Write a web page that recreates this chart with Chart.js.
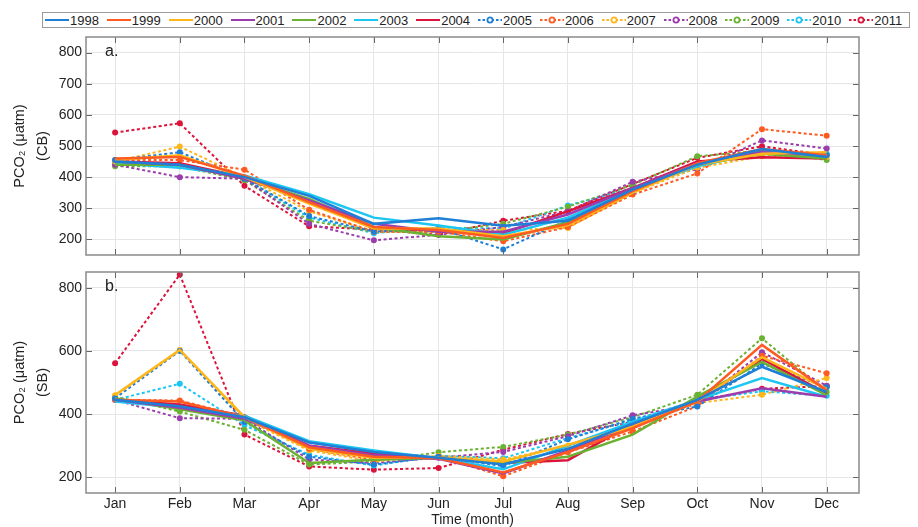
<!DOCTYPE html>
<html><head><meta charset="utf-8">
<script src="https://cdn.jsdelivr.net/npm/chart.js@4.4.1/dist/chart.umd.min.js"></script>
<style>
html,body{margin:0;padding:0;background:#fff;}
#wrap{position:relative;width:918px;height:527px;font-family:"Liberation Sans",Arial,sans-serif;overflow:hidden;}
canvas{position:absolute;left:0;top:0;}
#legend{position:absolute;left:42px;top:12px;width:866px;height:14px;border:1px solid #9a9a9a;display:flex;align-items:center;background:#fff;z-index:5;}
.item{display:flex;align-items:center;width:62px;font-size:13px;color:#222;white-space:nowrap;}
.item svg{margin-left:2px;margin-right:1px;}
</style></head>
<body>
<div id="wrap">
  <canvas id="cA" width="918" height="527"></canvas>
  <canvas id="cB" width="918" height="527"></canvas>
  <div id="legend"></div>
</div>
<script>
// ---------- data ----------
const months = ['Jan','Feb','Mar','Apr','May','Jun','Jul','Aug','Sep','Oct','Nov','Dec'];
const years = [1998,1999,2000,2001,2002,2003,2004,2005,2006,2007,2008,2009,2010,2011];
const colors = ['#1F7FD6','#FF5A22','#FFB61A','#9C3DAE','#6BB233','#1CC6F2','#DC143C'];
const ticksCB = [200,300,400,500,600,700,800];
const ticksSB = [200,400,600,800];

// panel a. PCO2 (CB), one row per year 1998..2011
const cbValues = [
  [450,440,400,340,250,268,244,260,360,440,490,465], // 1998
  [460,465,405,320,240,230,205,250,355,445,490,470], // 1999
  [455,470,400,315,235,235,210,245,350,440,475,480], // 2000
  [450,440,395,325,250,225,225,280,365,445,480,470], // 2001
  [440,440,395,330,240,210,200,255,355,440,475,460], // 2002
  [445,430,405,345,270,245,215,270,360,435,480,470], // 2003
  [450,445,400,325,235,230,220,290,365,450,464,460], // 2004
  [455,480,395,275,225,235,168,263,355,440,485,470], // 2005
  [455,455,424,295,225,225,194,240,344,412,554,533], // 2006
  [450,498,400,290,225,230,230,237,350,430,467,465], // 2007
  [440,400,395,250,197,215,240,290,385,425,518,492], // 2008
  [435,435,390,260,225,225,250,305,375,467,485,455], // 2009
  [445,435,395,270,220,238,235,309,365,443,480,475], // 2010
  [543,573,372,242,232,215,260,292,378,462,499,471]  // 2011
];
// panel b. PCO2 (SB)
const sbValues = [
  [445,425,390,310,280,262,240,290,370,445,550,470], // 1998
  [445,440,390,295,265,260,215,280,355,440,619,475], // 1999
  [460,603,390,290,262,262,250,303,360,440,580,480], // 2000
  [445,420,385,300,270,258,212,285,365,440,482,455], // 2001
  [450,415,380,245,255,262,245,265,335,455,565,460], // 2002
  [440,420,395,314,285,260,225,300,375,445,514,455], // 2003
  [445,430,395,300,275,262,245,254,370,445,575,465], // 2004
  [450,600,375,265,240,265,235,320,385,424,560,485], // 2005
  [445,443,390,290,255,265,203,279,345,425,585,529], // 2006
  [460,603,385,285,250,268,256,300,360,435,461,514], // 2007
  [445,387,385,256,245,262,280,330,396,430,596,490], // 2008
  [455,408,350,240,250,279,296,335,390,461,640,470], // 2009
  [445,496,365,271,237,268,260,324,380,445,472,458], // 2010
  [561,842,335,234,224,229,287,337,375,443,480,489]  // 2011
];

// ---------- legend ----------
const leg = document.getElementById('legend');
years.forEach((yr,i)=>{
  const c = colors[i%7];
  const dashed = i>=7;
  const svg = dashed
    ? `<svg width="24" height="10"><line x1="0" y1="5" x2="24" y2="5" stroke="${c}" stroke-width="2" stroke-dasharray="2.5,2"/><circle cx="12" cy="5" r="2.6" fill="#fff" stroke="${c}" stroke-width="1.8"/></svg>`
    : `<svg width="24" height="10"><line x1="0" y1="5" x2="24" y2="5" stroke="${c}" stroke-width="2"/></svg>`;
  const d = document.createElement('div');
  d.className='item';
  d.innerHTML = svg + '<span>'+yr+'</span>';
  leg.appendChild(d);
});

// ---------- charts ----------
const FONT = '"Liberation Sans", Arial, sans-serif';
const framePlugin = {
  id:'frame',
  afterDraw(chart, args, opts){
    const {ctx, chartArea:a, scales:{x,y}} = chart;
    ctx.save();
    ctx.strokeStyle='#666'; ctx.lineWidth=1;
    const L=6;
    ctx.beginPath();
    x.ticks.forEach(t=>{const p=Math.round(x.getPixelForValue(t.value))+0.5;
      ctx.moveTo(p,a.bottom); ctx.lineTo(p,a.bottom-L); ctx.moveTo(p,a.top); ctx.lineTo(p,a.top+L);});
    y.ticks.forEach(t=>{const p=Math.round(y.getPixelForValue(t.value))+0.5;
      ctx.moveTo(a.left,p); ctx.lineTo(a.left+L,p); ctx.moveTo(a.right,p); ctx.lineTo(a.right-L,p);});
    ctx.stroke();
    ctx.strokeStyle='#8a8a8a'; ctx.lineWidth=1.5;
    ctx.strokeRect(a.left,a.top,a.width,a.height);
    ctx.fillStyle='#222'; ctx.font='16px '+FONT; ctx.textBaseline='middle'; ctx.textAlign='left';
    ctx.fillText(opts.label, a.left+19, a.top+15);
    ctx.restore();
  }
};

function makeChart(id, values, yTicks, label, sub, bottom){
  const datasets = years.map((yr,i)=>{
    const c = colors[i%7];
    const dashed = i>=7;
    return {
      label:String(yr),
      data: values[i].map((v,j)=>({x:j+1,y:v})),
      borderColor:c, backgroundColor:c,
      borderWidth: dashed?2:2.5,
      borderDash: dashed?[3,2.5]:[],
      pointRadius: dashed?3:0,
      pointHoverRadius: dashed?3:0,
      pointBackgroundColor:c, pointBorderColor:c, pointBorderWidth:0,
      tension:0, fill:false
    };
  });
  return new Chart(document.getElementById(id), {
    type:'line',
    data:{datasets},
    plugins:[framePlugin],
    options:{
      responsive:false, animation:false,
      layout:{padding: bottom ? {left:0,top:272,right:59,bottom:0} : {left:0,top:37,right:59,bottom:272}},
      plugins:{legend:{display:false}, tooltip:{enabled:false}, frame:{label}},
      scales:{
        x:{type:'linear', min:0.55, max:12.5,
          afterBuildTicks: s=>{ s.ticks = months.map((m,i)=>({value:i+1})); },
          afterFit: s=>{ s.height = bottom ? 34 : 0; },
          grid:{color:'#e6e6e6', drawTicks:false, lineWidth:1},
          border:{display:false},
          ticks:{display:bottom, padding:3, color:'#222', font:{family:FONT,size:14}, maxRotation:0, autoSkip:false,
            callback:(v)=>months[Math.round(v)-1]},
          title:{display:bottom, text:'Time (month)', color:'#222', font:{family:FONT,size:14,lineHeight:1.0}, padding:{top:0,bottom:0}}
        },
        y:{type:'linear', min:150, max:850,
          afterBuildTicks: s=>{ s.ticks = yTicks.map(v=>({value:v})); },
          afterFit: s=>{ s.width = 86; },
          grid:{color:'#e6e6e6', drawTicks:false, lineWidth:1},
          border:{display:false},
          ticks:{padding:4, color:'#222', font:{family:FONT,size:14}},
          title:{display:true, text:['PCO\u2082 (\u03BCatm)', sub], color:'#222', font:{family:FONT,size:14.5,lineHeight:1.6}, padding:{top:8,bottom:0}}
        }
      }
    }
  });
}
makeChart('cA', cbValues, ticksCB, 'a.', '(CB)', false);
makeChart('cB', sbValues, ticksSB, 'b.', '(SB)', true);
</script>
</body></html>
